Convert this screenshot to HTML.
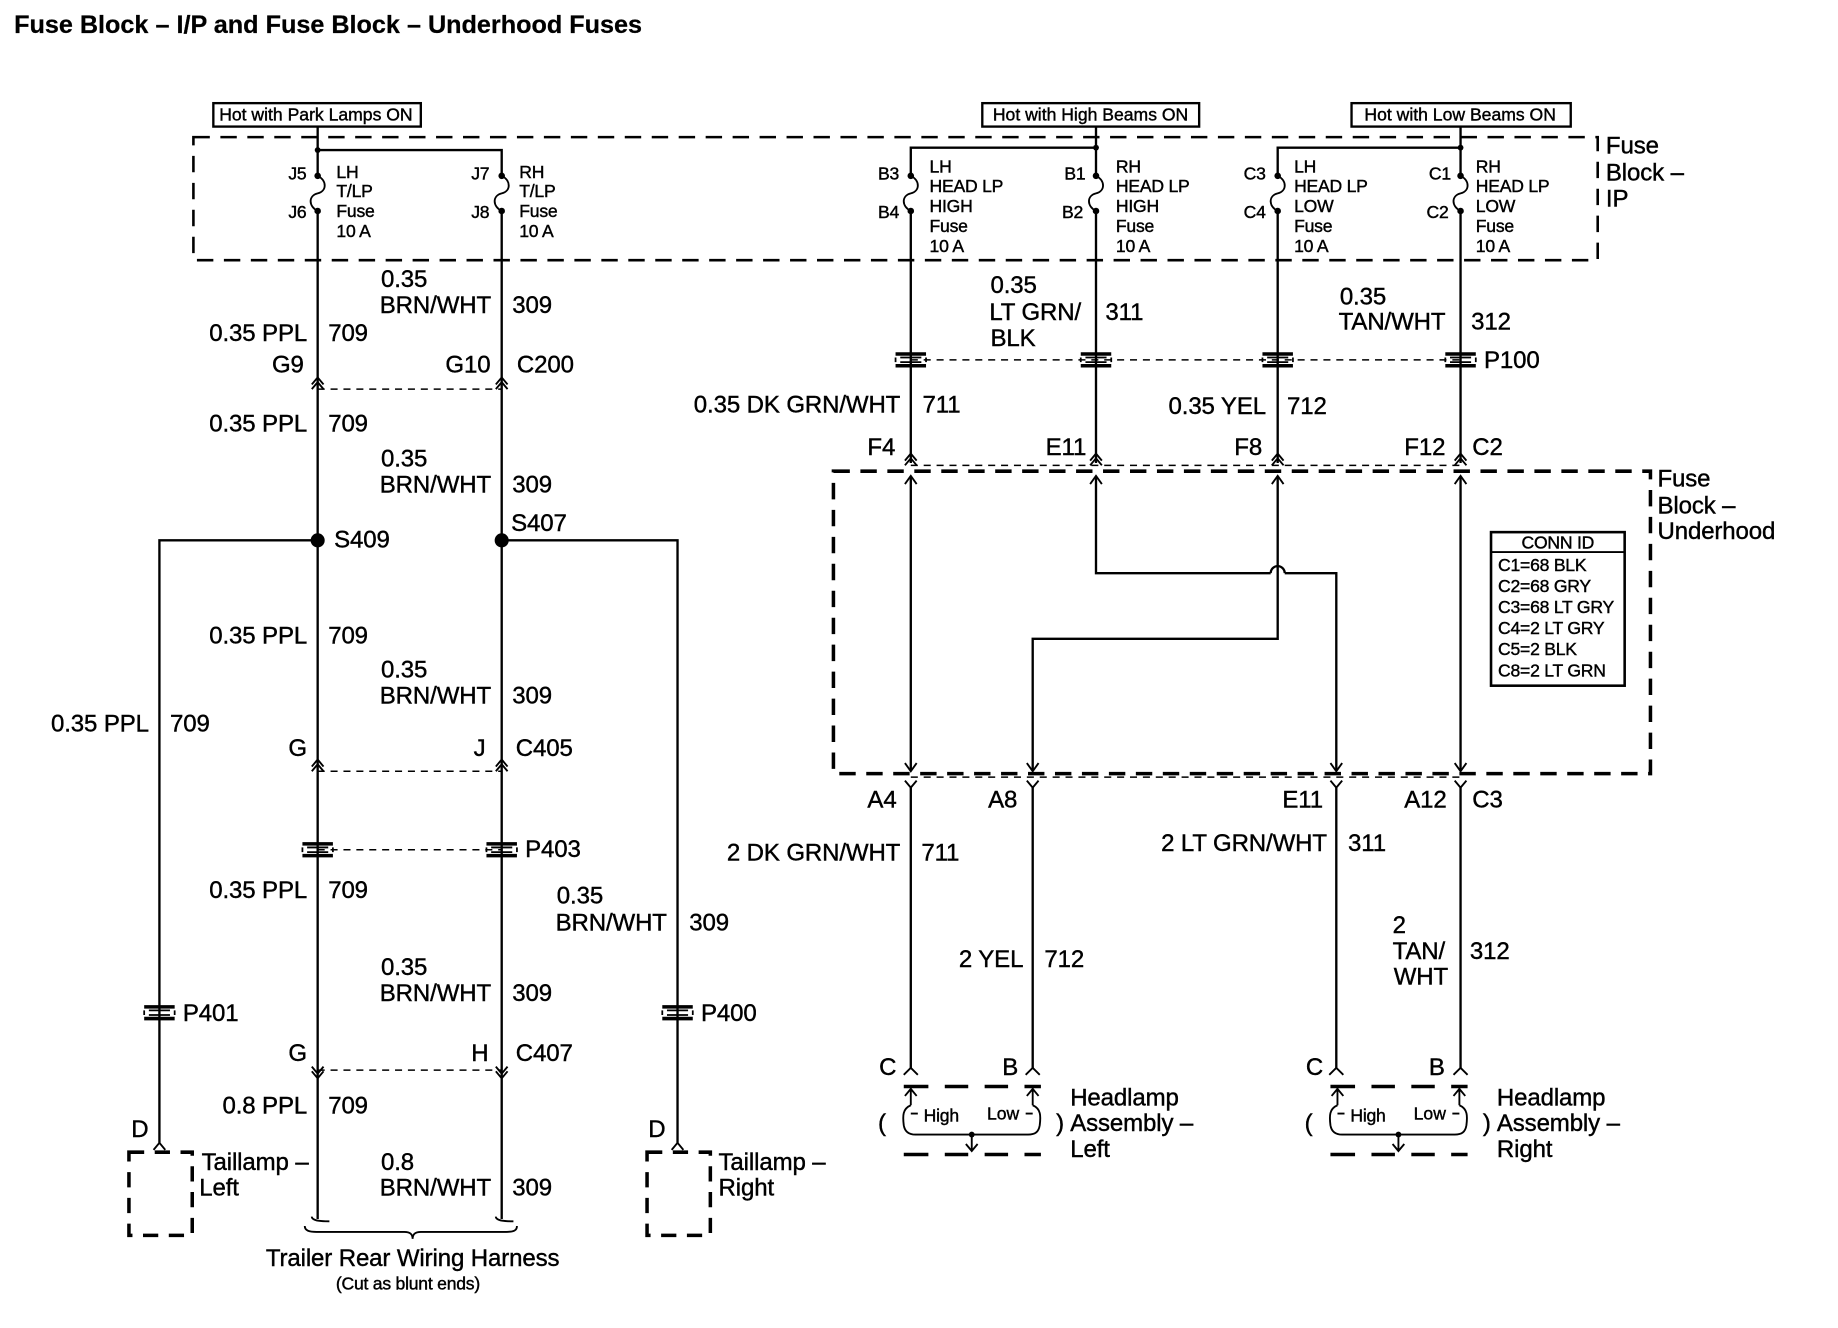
<!DOCTYPE html>
<html><head><meta charset="utf-8"><style>
html,body{margin:0;padding:0;background:#fff;}
svg{display:block;}
text{font-family:"Liberation Sans",sans-serif;fill:#000;stroke:#000;stroke-width:0.35px;}
.w{font-size:20.5px;letter-spacing:-0.1px;}
.s{font-size:15px;letter-spacing:0px;}
.t{font-size:15px;letter-spacing:-0.2px;}
</style></head><body>
<svg width="1838" height="1328" viewBox="0 0 1568 1133" preserveAspectRatio="none" xmlns="http://www.w3.org/2000/svg">
<defs>
<g id="up"><polyline points="-5,7 0,1 5,7" fill="none" stroke="#000" stroke-width="1.6"/><polyline points="-5,11 0,5 5,11" fill="none" stroke="#000" stroke-width="1.6"/></g>
<g id="dn"><polyline points="-5,-7 0,-1 5,-7" fill="none" stroke="#000" stroke-width="1.6"/><polyline points="-5,-11 0,-5 5,-11" fill="none" stroke="#000" stroke-width="1.6"/></g>
<g id="yy"><polyline points="-5,-6 0,0 5,-6" fill="none" stroke="#000" stroke-width="1.6"/></g>
<g id="ic"><path d="M-13,-5 H13 M-13,5 H13" stroke="#000" stroke-width="3"/><path d="M-13,-2 V2 M13,-2 V2 M-9,-2 H9 M-9,2 H9" stroke="#000" stroke-width="1.5"/></g>
<g id="fuse"><circle cx="0" cy="0" r="2.8"/><circle cx="0" cy="30" r="2.8"/><path d="M0,0 C8,4 8,13 0,15 C-8,17 -8,26 0,30" fill="none" stroke="#000" stroke-width="1.6"/></g>
</defs>
<text x="12" y="28" style="font-size:21.5px;font-weight:bold;letter-spacing:0px;stroke-width:0.2px">Fuse Block – I/P and Fuse Block – Underhood Fuses</text>

<!-- top labels -->
<g fill="none" stroke="#000" stroke-width="2">
<rect x="182" y="88" width="177" height="20"/>
<rect x="838" y="88" width="185" height="20"/>
<rect x="1153" y="88" width="187" height="20"/>
</g>
<text x="187" y="103" class="s">Hot with Park Lamps ON</text>
<text x="847" y="103" class="s">Hot with High Beams ON</text>
<text x="1164" y="103" class="s">Hot with Low Beams ON</text>

<!-- IP fuse block -->
<rect x="165" y="117" width="1198" height="105" fill="none" stroke="#000" stroke-width="2.2" stroke-dasharray="14,9"/>
<text x="1370" y="131" class="w">Fuse</text><text x="1370" y="154" class="w">Block –</text><text x="1370" y="176" class="w">IP</text>

<g stroke="#000" stroke-width="2" fill="none">
<path d="M271,108 V150 M271,128 H428 V150"/>
<path d="M935,108 V150 M777,150 V126 H935 M1246,108 V150 M1090,150 V126 H1246"/>
<path d="M271,180 V1040 M428,180 V1040"/>
<path d="M271,461 H136 V975 M428,461 H578 V975"/>
<path d="M777,180 V395 M935,180 V395 M1090,180 V395 M1246,180 V395"/>
<path d="M777,407 V657 M1246,407 V657"/>
<path d="M935,407 V489 H1084 M1096,489 H1140 V657"/>
<path d="M1084,489 A6,6 0 0 1 1096,489"/>
<path d="M1090,407 V545 H881 V657"/>
<path d="M777,672 V912 M881,672 V912 M1140,672 V912 M1246,672 V912"/>
</g>
<g fill="#000">
<use href="#fuse" x="271" y="150"/><use href="#fuse" x="428" y="150"/>
<use href="#fuse" x="777" y="150"/><use href="#fuse" x="935" y="150"/>
<use href="#fuse" x="1090" y="150"/><use href="#fuse" x="1246" y="150"/>
<circle cx="271" cy="128" r="2.5"/><circle cx="935" cy="126" r="2.5"/><circle cx="1246" cy="126" r="2.5"/>
<circle cx="271" cy="461" r="6"/><circle cx="428" cy="461" r="6"/>
</g>
<g class="t">
<text x="246" y="153">J5</text><text x="246" y="186">J6</text>
<text x="287" y="152">LH</text><text x="287" y="168">T/LP</text><text x="287" y="185">Fuse</text><text x="287" y="202">10 A</text>
<text x="402" y="153">J7</text><text x="402" y="186">J8</text>
<text x="443" y="152">RH</text><text x="443" y="168">T/LP</text><text x="443" y="185">Fuse</text><text x="443" y="202">10 A</text>
<text x="749" y="153">B3</text><text x="749" y="186">B4</text>
<text x="793" y="147">LH</text><text x="793" y="164">HEAD LP</text><text x="793" y="181">HIGH</text><text x="793" y="198">Fuse</text><text x="793" y="215">10 A</text>
<text x="908" y="153">B1</text><text x="906" y="186">B2</text>
<text x="952" y="147">RH</text><text x="952" y="164">HEAD LP</text><text x="952" y="181">HIGH</text><text x="952" y="198">Fuse</text><text x="952" y="215">10 A</text>
<text x="1061" y="153">C3</text><text x="1061" y="186">C4</text>
<text x="1104" y="147">LH</text><text x="1104" y="164">HEAD LP</text><text x="1104" y="181">LOW</text><text x="1104" y="198">Fuse</text><text x="1104" y="215">10 A</text>
<text x="1219" y="153">C1</text><text x="1217" y="186">C2</text>
<text x="1259" y="147">RH</text><text x="1259" y="164">HEAD LP</text><text x="1259" y="181">LOW</text><text x="1259" y="198">Fuse</text><text x="1259" y="215">10 A</text>
</g>

<g stroke="#000" stroke-width="1.3" stroke-dasharray="6,5" fill="none">
<path d="M271,332 H428 M271,658 H428 M271,725 H428 M271,913 H428"/>
<path d="M777,307 H1246 M777,397 H1246 M777,663 H1246"/>
</g>
<use href="#up" x="271" y="321"/><use href="#up" x="428" y="321"/>
<use href="#up" x="271" y="647"/><use href="#up" x="428" y="647"/>
<use href="#dn" x="271" y="921"/><use href="#dn" x="428" y="921"/>
<use href="#up" x="777" y="386"/><use href="#up" x="935" y="386"/><use href="#up" x="1090" y="386"/><use href="#up" x="1246" y="386"/>
<use href="#yy" x="777" y="672"/><use href="#yy" x="881" y="672"/><use href="#yy" x="1140" y="672"/><use href="#yy" x="1246" y="672"/>
<g stroke="#000" stroke-width="1.6" fill="none">
<path d="M772,413 L777,406 L782,413 M930,413 L935,406 L940,413 M1085,413 L1090,406 L1095,413 M1241,413 L1246,406 L1251,413"/>
<path d="M772,651 L777,658 L782,651 M876,651 L881,658 L886,651 M1135,651 L1140,658 L1145,651 M1241,651 L1246,658 L1251,651"/>
<path d="M131,981 L136,975 L141,981 M573,981 L578,975 L583,981"/>
<path d="M771,917 L777,911 L783,917 M875,917 L881,911 L887,917 M1134,917 L1140,911 L1146,917 M1240,917 L1246,911 L1252,917"/>
<path d="M266,1038 C266,1042 276,1042 281,1042 M423,1038 C423,1042 433,1042 438,1042"/>
<path d="M260,1046 C260,1050 264,1051 270,1051 H345 C350,1051 352,1053 352,1057 C352,1053 354,1051 359,1051 H432 C438,1051 441,1050 441,1046"/>
</g>
<use href="#ic" x="271" y="725"/><use href="#ic" x="428" y="725"/>
<use href="#ic" x="136" y="864"/><use href="#ic" x="578" y="864"/>
<use href="#ic" x="777" y="307"/><use href="#ic" x="935" y="307"/><use href="#ic" x="1090" y="307"/><use href="#ic" x="1246" y="307"/>

<rect x="711" y="402" width="697" height="258" fill="none" stroke="#000" stroke-width="3" stroke-dasharray="14,9"/>
<text x="1414" y="415" class="w">Fuse</text><text x="1414" y="438" class="w">Block –</text><text x="1414" y="460" class="w">Underhood</text>
<rect x="1272" y="454" width="114" height="131" fill="#fff" stroke="#000" stroke-width="2.2"/>
<path d="M1272,471 H1386" stroke="#000" stroke-width="1.5"/>
<g class="t"><text x="1298" y="468">CONN ID</text>
<text x="1278" y="487">C1=68 BLK</text><text x="1278" y="505">C2=68 GRY</text><text x="1278" y="523">C3=68 LT GRY</text><text x="1278" y="541">C4=2 LT GRY</text><text x="1278" y="559">C5=2 BLK</text><text x="1278" y="577">C8=2 LT GRN</text></g>

<g class="w">
<text x="325" y="245">0.35</text><text x="324" y="267">BRN/WHT</text><text x="437" y="267">309</text>
<text x="262" y="291" text-anchor="end">0.35 PPL</text><text x="280" y="291">709</text>
<text x="232" y="318">G9</text><text x="380" y="318">G10</text><text x="441" y="318">C200</text>
<text x="262" y="368" text-anchor="end">0.35 PPL</text><text x="280" y="368">709</text>
<text x="325" y="398">0.35</text><text x="324" y="420">BRN/WHT</text><text x="437" y="420">309</text>
<text x="285" y="467">S409</text><text x="436" y="453">S407</text>
<text x="262" y="549" text-anchor="end">0.35 PPL</text><text x="280" y="549">709</text>
<text x="325" y="578">0.35</text><text x="324" y="600">BRN/WHT</text><text x="437" y="600">309</text>
<text x="127" y="624" text-anchor="end">0.35 PPL</text><text x="145" y="624">709</text>
<text x="246" y="645">G</text><text x="404" y="645">J</text><text x="440" y="645">C405</text>
<text x="448" y="731">P403</text>
<text x="262" y="766" text-anchor="end">0.35 PPL</text><text x="280" y="766">709</text>
<text x="475" y="771">0.35</text><text x="474" y="794">BRN/WHT</text><text x="588" y="794">309</text>
<text x="325" y="832">0.35</text><text x="324" y="854">BRN/WHT</text><text x="437" y="854">309</text>
<text x="156" y="871">P401</text><text x="598" y="871">P400</text>
<text x="246" y="905">G</text><text x="402" y="905">H</text><text x="440" y="905">C407</text>
<text x="262" y="950" text-anchor="end">0.8 PPL</text><text x="280" y="950">709</text>
<text x="112" y="970">D</text><text x="553" y="970">D</text>
<text x="172" y="998">Taillamp –</text><text x="170" y="1020">Left</text>
<text x="613" y="998">Taillamp –</text><text x="613" y="1020">Right</text>
<text x="325" y="998">0.8</text><text x="324" y="1020">BRN/WHT</text><text x="437" y="1020">309</text>
<text x="352" y="1080" text-anchor="middle">Trailer Rear Wiring Harness</text>
</g>
<text x="348" y="1100" text-anchor="middle" class="t">(Cut as blunt ends)</text>
<g fill="none" stroke="#000" stroke-width="3" stroke-dasharray="13,9">
<rect x="110" y="983" width="54" height="71"/>
<rect x="552" y="983" width="54" height="71"/>
</g>

<g class="w">
<text x="845" y="250">0.35</text><text x="844" y="273">LT GRN/</text><text x="845" y="295">BLK</text><text x="943" y="273">311</text>
<text x="1143" y="260">0.35</text><text x="1142" y="281">TAN/WHT</text><text x="1255" y="281">312</text>
<text x="1266" y="314">P100</text>
<text x="768" y="352" text-anchor="end">0.35 DK GRN/WHT</text><text x="787" y="352">711</text>
<text x="1080" y="353" text-anchor="end">0.35 YEL</text><text x="1098" y="353">712</text>
<text x="740" y="388">F4</text><text x="892" y="388">E11</text><text x="1053" y="388">F8</text><text x="1198" y="388">F12</text><text x="1256" y="388">C2</text>
<text x="740" y="689">A4</text><text x="843" y="689">A8</text><text x="1094" y="689">E11</text><text x="1198" y="689">A12</text><text x="1256" y="689">C3</text>
<text x="768" y="734" text-anchor="end">2 DK GRN/WHT</text><text x="786" y="734">711</text>
<text x="1132" y="726" text-anchor="end">2 LT GRN/WHT</text><text x="1150" y="726">311</text>
<text x="873" y="825" text-anchor="end">2 YEL</text><text x="891" y="825">712</text>
<text x="1188" y="796">2</text><text x="1188" y="818">TAN/</text><text x="1189" y="840">WHT</text><text x="1254" y="818">312</text>
<text x="750" y="917">C</text><text x="855" y="917">B</text>
<text x="1114" y="917">C</text><text x="1219" y="917">B</text>
<text x="913" y="943">Headlamp</text><text x="913" y="965">Assembly –</text><text x="913" y="987">Left</text>
<text x="1277" y="943">Headlamp</text><text x="1277" y="965">Assembly –</text><text x="1277" y="987">Right</text>
<text x="749" y="965">(</text><text x="901" y="965">)</text>
<text x="1113" y="965">(</text><text x="1265" y="965">)</text>
</g>
<g id="hl">
<g stroke="#000" stroke-width="3" fill="none"><path d="M771,927 H792 M806,927 H826 M840,927 H860 M874,927 H888"/><path d="M771,985 H792 M806,985 H826 M840,985 H860 M874,985 H888"/></g>
<g stroke="#000" stroke-width="1.6" fill="none">
<path d="M777,928 V943 M772,935 L777,929 L782,935 M881,928 V943 M876,935 L881,929 L886,935"/>
<path d="M777,943 C770,946 770,952 771,960 C772,966 776,968 781,968 H877 C883,968 886,966 887,960 C888,952 888,946 881,943"/>
<path d="M777,950 H783 M881,950 H875 M829,968 V982 M824,976 L829,982 L834,976"/>
</g>
<circle cx="829" cy="968" r="2.5"/>
<text x="788" y="957" class="t">High</text><text x="842" y="955" class="s">Low</text>
</g>
<use href="#hl" x="364" y="0"/>
</svg>
</body></html>
